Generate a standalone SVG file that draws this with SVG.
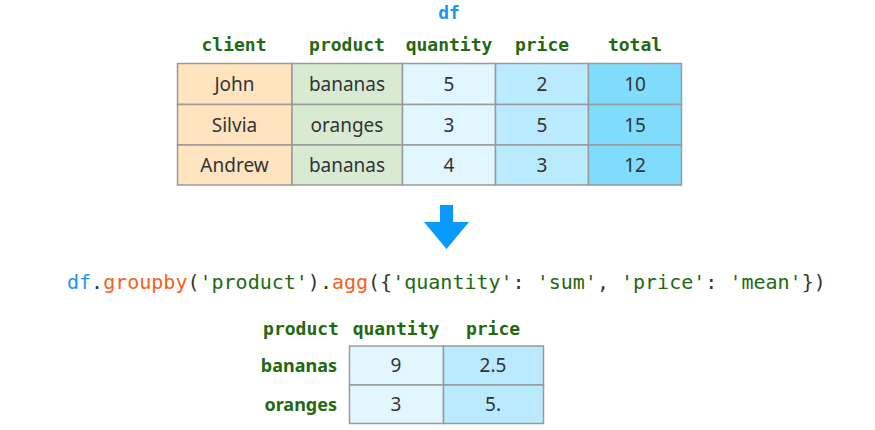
<svg xmlns="http://www.w3.org/2000/svg" width="875" height="430" viewBox="0 0 875 430">
<style>
.hd{font-family:"DejaVu Sans Mono","Liberation Mono",monospace;font-weight:bold;font-size:18px;fill:#22690f;text-anchor:middle}
.cell{stroke:#9a9a9a;stroke-width:1.5}
.tx{font-family:"Noto Sans","Open Sans",sans-serif;font-size:19px;fill:#333;text-anchor:middle}
.rl{font-family:"Noto Sans","Open Sans",sans-serif;font-weight:bold;font-size:18px;fill:#22690f;text-anchor:end}
.code{font-family:"DejaVu Sans Mono","Liberation Mono",monospace;font-size:20px}
.c1{fill:#ffe4bf}.c2{fill:#d9ead3}.c3{fill:#e1f6fe}.c4{fill:#b9eafd}.c5{fill:#80dcfd}
</style>
<rect width="875" height="430" fill="#fff"/>
<g id="df-title"><text class="hd" x="449" y="19" style="fill:#1a96f5">df</text></g>
<g id="df-table">
<text class="hd" x="234" y="51">client</text>
<text class="hd" x="347" y="51">product</text>
<text class="hd" x="449" y="51">quantity</text>
<text class="hd" x="542" y="51">price</text>
<text class="hd" x="635" y="51">total</text>
<rect class="cell c1" x="177.5" y="63.5" width="114.5" height="41"/>
<rect class="cell c2" x="292" y="63.5" width="110.5" height="41"/>
<rect class="cell c3" x="402.5" y="63.5" width="93" height="41"/>
<rect class="cell c4" x="495.5" y="63.5" width="93" height="41"/>
<rect class="cell c5" x="588.5" y="63.5" width="93" height="41"/>
<rect class="cell c1" x="177.5" y="104.5" width="114.5" height="40.5"/>
<rect class="cell c2" x="292" y="104.5" width="110.5" height="40.5"/>
<rect class="cell c3" x="402.5" y="104.5" width="93" height="40.5"/>
<rect class="cell c4" x="495.5" y="104.5" width="93" height="40.5"/>
<rect class="cell c5" x="588.5" y="104.5" width="93" height="40.5"/>
<rect class="cell c1" x="177.5" y="145" width="114.5" height="40"/>
<rect class="cell c2" x="292" y="145" width="110.5" height="40"/>
<rect class="cell c3" x="402.5" y="145" width="93" height="40"/>
<rect class="cell c4" x="495.5" y="145" width="93" height="40"/>
<rect class="cell c5" x="588.5" y="145" width="93" height="40"/>
<text class="tx" x="234.5" y="91">John</text>
<text class="tx" x="347" y="91">bananas</text>
<text class="tx" x="449" y="91">5</text>
<text class="tx" x="542" y="91">2</text>
<text class="tx" x="635" y="91">10</text>
<text class="tx" x="234.5" y="132">Silvia</text>
<text class="tx" x="347" y="132">oranges</text>
<text class="tx" x="449" y="132">3</text>
<text class="tx" x="542" y="132">5</text>
<text class="tx" x="635" y="132">15</text>
<text class="tx" x="234.5" y="172">Andrew</text>
<text class="tx" x="347" y="172">bananas</text>
<text class="tx" x="449" y="172">4</text>
<text class="tx" x="542" y="172">3</text>
<text class="tx" x="635" y="172">12</text>
</g>
<g id="connectors">
<polygon points="440,205 453,205 453,222 469,222 446.5,249 424,222 440,222" fill="#0a99fc"/>
</g>
<g id="code">
<text class="code" x="67" y="289"><tspan fill="#1a96f5">df</tspan><tspan fill="#333">.</tspan><tspan fill="#f4611f">groupby</tspan><tspan fill="#333">(</tspan><tspan fill="#22690f">'product'</tspan><tspan fill="#333">).</tspan><tspan fill="#f4611f">agg</tspan><tspan fill="#333">({</tspan><tspan fill="#22690f">'quantity'</tspan><tspan fill="#333">: </tspan><tspan fill="#22690f">'sum'</tspan><tspan fill="#333">, </tspan><tspan fill="#22690f">'price'</tspan><tspan fill="#333">: </tspan><tspan fill="#22690f">'mean'</tspan><tspan fill="#333">})</tspan></text>
</g>
<g id="result-table">
<text class="hd" x="301" y="335">product</text>
<text class="hd" x="396" y="335">quantity</text>
<text class="hd" x="493" y="335">price</text>
<rect class="cell c3" x="349.5" y="346" width="94" height="39"/>
<rect class="cell c4" x="443.5" y="346" width="100" height="39"/>
<rect class="cell c3" x="349.5" y="385" width="94" height="38.5"/>
<rect class="cell c4" x="443.5" y="385" width="100" height="38.5"/>
<text class="rl" x="337" y="372">bananas</text>
<text class="rl" x="337" y="411">oranges</text>
<text class="tx" x="396" y="372">9</text>
<text class="tx" x="493" y="372">2.5</text>
<text class="tx" x="396" y="411">3</text>
<text class="tx" x="493" y="411">5.</text>
</g>
</svg>
